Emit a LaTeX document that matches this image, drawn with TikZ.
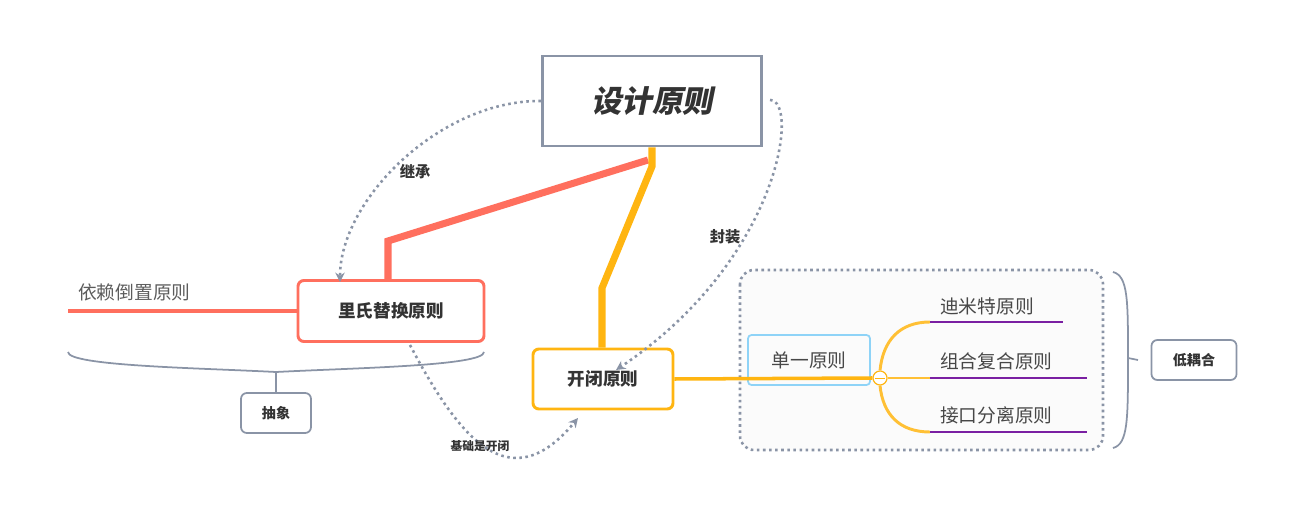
\documentclass[tikz,border=0pt]{standalone}
\usepackage{fontspec}
\usepackage{xcolor}
\setmainfont{Noto Sans CJK SC}
\newfontfamily\cjkslant[FakeSlant=0.2]{Noto Sans CJK SC}
\usetikzlibrary{arrows.meta,positioning}
\definecolor{grayline}{HTML}{8A94A6}
\definecolor{coral}{HTML}{FF6F5E}
\definecolor{amber}{HTML}{FFB511}
\definecolor{skyb}{HTML}{8ED3F7}
\definecolor{purp}{HTML}{7A1FA2}
\definecolor{txt}{HTML}{333333}
\tikzset{
	topic/.style={draw,line width=2.5pt,rounded corners=5pt,fill=white,text=txt,font=\bfseries\fontsize{15}{18}\selectfont,inner sep=0pt},
	tag/.style={draw=grayline,line width=1.5pt,rounded corners=5pt,text=txt,font=\bfseries\fontsize{12}{14}\selectfont,minimum width=2.16cm,minimum height=1.2cm,inner sep=0pt},
	leaf/.style={text=txt!90,font=\fontsize{16}{19}\selectfont,anchor=south west,inner sep=0pt},
	rel/.style={grayline,line width=2.2pt,dash pattern=on 2.2pt off 3pt,-{Stealth[length=8pt,width=8pt]}},
	rellabel/.style={text=txt,font=\bfseries\fontsize{13}{15}\selectfont}
}
\begin{document}
\begin{tikzpicture}[x=0.03cm,y=-0.03cm]
	\useasboundingbox (0,0) rectangle (1298,516);
	% right group frame
	\draw[grayline,line width=2.2pt,dash pattern=on 2.2pt off 3pt,rounded corners=12pt,fill=gray!3] (740,270) rectangle (1103,450);
	% main boxes
	\node[draw=grayline,line width=2.5pt,fill=white,minimum width=6.57cm,minimum height=2.7cm,inner sep=0pt,text=txt,font=\cjkslant\bfseries\fontsize{26}{30}\selectfont] (root) at (652,101) {设计原则};
	\node[topic,draw=coral,minimum width=5.58cm,minimum height=1.83cm] (lsp) at (391,311) {里氏替换原则};
	\node[topic,draw=amber,minimum width=4.2cm,minimum height=1.8cm] (ocp) at (603,379) {开闭原则};
	\node[draw=skyb,line width=1.5pt,rounded corners=3pt,minimum width=3.66cm,minimum height=1.5cm,text=txt!90,font=\fontsize{16}{19}\selectfont,inner sep=0pt] (srp) at (809,360) {单一原则};
	% thick branches
	\coordinate (kneeR) at (388,241);
	\coordinate (kneeO) at (602,288);
	\draw[coral,line width=6pt] (648,160) -- (kneeR) -- (kneeR |- lsp.north);
	\draw[amber,line width=6pt] (root.south) -- ++(0,19) -- (kneeO) -- (kneeO |- ocp.north);
	% left branch
	\coordinate (leftend) at (68,311);
	\draw[coral,line width=3pt] (lsp.west) -- (leftend);
	\node[leaf,text=txt!80] (dip) at (78,301) {依赖倒置原则};
	% brace under
	\coordinate (brL) at (68,352);
	\coordinate (brR) at (484,352);
	\coordinate (brM) at (276,372);
	\draw[grayline,line width=1.5pt] (brL) .. controls (68,366) and (200,368) .. (brM) .. controls (352,368) and (484,366) .. (brR);
	\node[tag,minimum width=2.1cm] (abs) at (276,413) {抽象};
	\draw[grayline,line width=1.5pt] (brM) -- (abs.north);
	% dotted relations
	\draw[rel] (root.west) .. controls (440,100) and (340,200) .. (340,282);
	\node[rellabel] (l1) at (415,172) {继承};
	\draw[rel] (770,100) .. controls (800,100) and (780,260) .. (616,370);
	\node[rellabel] (l2) at (725,237) {封装};
	\draw[rel] (410,345) .. controls (460,440) and (510,500) .. (578,418);
	\node[rellabel,font=\bfseries\fontsize{10}{12}\selectfont] (l3) at (480,446) {基础是开闭};
	% right branches
	\node[draw=amber,line width=1pt,circle,fill=white,minimum size=0.42cm,inner sep=0pt] (knob) at (880,378) {};
	\draw[amber,line width=3pt] (ocp.east) -- (knob.west);
	\draw[amber,line width=0.8pt] (875,378) -- (885,378);
	\node[leaf] (lod) at (940,315) {迪米特原则};
	\node[leaf] (crp) at (940,370) {组合复合原则};
	\node[leaf] (isp) at (940,424) {接口分离原则};
	\coordinate (u1) at (930,322);
	\coordinate (u2) at (930,378);
	\coordinate (u3) at (930,432);
	\draw[amber!85,line width=2.5pt] (knob.north) .. controls (883,340) and (900,322) .. (u1);
	\draw[amber!85,line width=2.5pt] (knob.east) -- (u2);
	\draw[amber!85,line width=2.5pt] (knob.south) .. controls (883,415) and (900,432) .. (u3);
	\draw[purp,line width=2.5pt] (u1) -- ++(133,0);
	\draw[purp,line width=2.5pt] (u2) -- ++(157,0);
	\draw[purp,line width=2.5pt] (u3) -- ++(157,0);
	% right brace
	\coordinate (rbT) at (1113,272);
	\coordinate (rbB) at (1113,448);
	\draw[grayline,line width=1.5pt] (rbT) .. controls (1128,276) and (1128,300) .. (1128,358) .. controls (1128,420) and (1128,444) .. (rbB);
	\node[tag,minimum width=2.55cm] (lc) at (1194,360) {低耦合};
	\draw[grayline,line width=1.5pt] (1128,358) -- (lc.west -| 1138,0);
\end{tikzpicture}
\end{document}
